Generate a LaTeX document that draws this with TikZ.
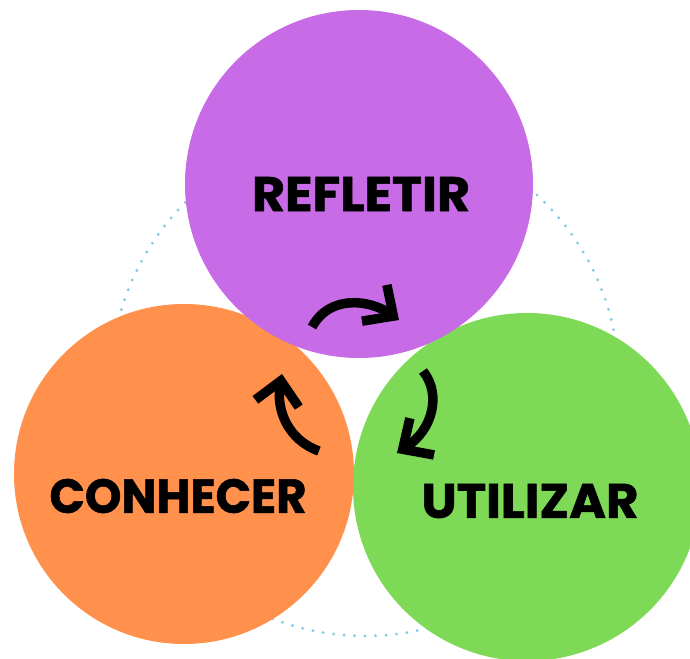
\documentclass[tikz,border=0pt]{standalone}
\usepackage{fontspec}
\setmainfont{Poppins}[BoldFeatures={FakeBold=1.2}]
\usetikzlibrary{arrows.meta}
\definecolor{cpurple}{HTML}{C86BE6}
\definecolor{corange}{HTML}{FF914D}
\definecolor{cgreen}{HTML}{7ED957}
\definecolor{cdots}{RGB}{130,205,225}
\begin{document}
\begin{tikzpicture}[x=1pt,y=-1pt,
  blob/.style={circle, inner sep=0pt, minimum size=#1},
  lbl/.style={inner sep=0pt, text=black, font=\bfseries},
  cyc/.style={line width=9.5pt, -{Straight Barb[length=23pt,width=44pt]}}]
\useasboundingbox (0,0) rectangle (690,658);
\clip (0,0) rectangle (690,658);
\fill[white] (0,0) rectangle (690,658);
\draw[cdots, line width=3.2pt, line cap=round, dash pattern=on 0pt off 10.5pt] (365,382) circle[radius=254];
\node[blob=340pt, fill=corange] (conhecer) at (184,474) {};
\node[blob=348pt, fill=cgreen] (utilizar) at (527,487) {};
\node[blob=348pt, fill=cpurple] (refletir) at (359,184) {};
\node[lbl] (trefletir) at (361,194) {\resizebox{218pt}{34pt}{REFLETIR}};
\node[lbl] (tconhecer) at (178,496) {\resizebox{257pt}{34pt}{CONHECER}};
\node[lbl] (tutilizar) at (530,501) {\resizebox{217pt}{34pt}{UTILIZAR}};
\coordinate (a1s) at (312,327);
\coordinate (a1e) at (399,320);
\coordinate (a2s) at (423,371);
\coordinate (a2e) at (397,453);
\coordinate (a3s) at (319,451);
\coordinate (a3e) at (282,374);
\draw[cyc] (a1s) .. controls (330,294) and (370,300) .. (a1e);
\draw[cyc] (a2s) .. controls (442,395) and (432,430) .. (a2e);
\draw[cyc] (a3s) .. controls (288,440) and (276,410) .. (a3e);
\end{tikzpicture}
\end{document}
